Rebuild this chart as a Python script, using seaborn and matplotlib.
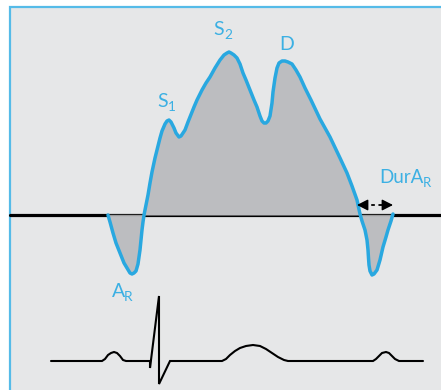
import matplotlib
matplotlib.use("Agg")
import matplotlib.pyplot as plt
from matplotlib.patches import Rectangle
import seaborn as sns
import pandas as pd

# ── data (x = time in px, y = image row, converted to velocity below) ─────────
BASE_ROW = 215
flow_t = [108, 110, 113, 116, 120, 124, 127, 130, 132, 134, 136, 138, 140, 141,
          142, 143, 144, 146, 148, 150, 152, 155, 158, 160, 162, 165, 167, 169,
          171, 174, 176, 179, 181, 183, 185, 188, 190, 194, 197, 202, 206, 210,
          215, 220, 224, 227, 229, 231, 234, 237, 240, 243, 246, 250, 254, 257,
          260, 262, 264, 266, 268, 270, 272, 273, 275, 277, 279, 282, 285, 288,
          292, 296, 300, 305, 311, 320, 330, 340, 347, 352, 357, 360, 362, 365,
          367, 368, 368.5, 369, 370, 372, 374, 377, 380, 383, 386, 388, 391, 393]
flow_row = [215, 222, 233, 243, 253, 263, 268, 273, 274, 273, 271, 264, 250, 240,
            230, 222, 215, 205, 195, 183, 172, 158, 146, 138, 131, 124, 121, 120,
            122, 128, 133, 137, 136, 133, 130, 122, 117, 107, 100, 90, 83, 77,
            68, 60, 55, 53, 52, 53, 55, 58, 64, 73, 80, 90, 100, 107,
            116, 121, 123, 123, 121, 116, 103, 92, 78, 68, 63, 61, 61, 62,
            64, 70, 77, 88, 100, 119, 137, 158, 173, 186, 200, 214, 221, 230,
            240, 250, 258, 265, 271, 275, 274, 270, 260, 247, 237, 230, 221, 214]
flow_v = [BASE_ROW - r for r in flow_row]

# ECG trace, amplitude above its own baseline
ECG_ROW = 361
ecg_t = [51, 102, 105, 108, 111, 114, 117, 120, 123, 126, 150, 150, 159, 159,
         170, 222, 226, 230, 235, 240, 246, 253, 260, 266, 272, 278, 284, 288,
         373, 376, 379, 382, 386, 389, 392, 395, 399, 423]
ecg_amp = [0, 0, 2, 6, 8, 9, 8, 5, 1, 0, 0, -7, 65, -23,
           0, 0, 2, 6, 10, 13, 15, 16, 15, 12, 8, 4, 1, 0,
           0, 2, 5, 8, 9, 8, 5, 2, 0, 0]

BLUE = "#29a8e0"
TEXT_BLUE = "#3cb0e3"
FILL = "#bcbdc0"
PANEL = "#e6e7e8"

sns.set_theme(style="white")
plt.rcParams["font.family"] = ["Lato", "DejaVu Sans"]

fig = plt.figure(figsize=(4.41, 3.90), dpi=100)
fig.patch.set_facecolor("white")
ax = fig.add_axes([0, 0, 1, 1])

# panel with light-blue frame
ax.add_patch(Rectangle((10, BASE_ROW - 450), 440, 450 - 7, facecolor=PANEL,
                       edgecolor="#55bbe8", lw=1.6, zorder=0))

# zero line
ax.plot([10, 441], [0, 0], color="black", lw=2.3, zorder=1)

flow = pd.DataFrame({"t": flow_t, "v": flow_v})
ax.fill_between(flow["t"], flow["v"], 0, color=FILL, lw=0, zorder=2)
ax.plot([108, 144], [0, 0], color="#9a9a9c", lw=1.0, zorder=2)
ax.plot([360, 393], [0, 0], color="#9a9a9c", lw=1.0, zorder=2)
sns.lineplot(data=flow, x="t", y="v", sort=False, estimator=None, color=BLUE,
             lw=2.5, ax=ax, zorder=3, solid_joinstyle="round",
             solid_capstyle="round")

ecg = pd.DataFrame({"t": ecg_t, "v": [BASE_ROW - ECG_ROW + a for a in ecg_amp]})
sns.lineplot(data=ecg, x="t", y="v", sort=False, estimator=None, color="black",
             lw=1.5, ax=ax, zorder=3, solid_joinstyle="miter")
ax.set_xlim(0, 441)
ax.set_ylim(BASE_ROW - 390, BASE_ROW)
ax.axis("off")

# labels
def label(x, row, main, sub, size=14, dx=0):
    ax.text(x, BASE_ROW - row, main, color=TEXT_BLUE, fontsize=size,
            ha="left", va="baseline", zorder=4)
    if sub:
        ax.text(x + dx, BASE_ROW - row - 4, sub, color=TEXT_BLUE,
                fontsize=size * 0.7, ha="left", va="baseline", zorder=4)

label(157, 107, "S", "1", dx=11)
label(213, 35, "S", "2", dx=11)
label(279, 50, "D", None)
label(379, 183, "DurA", "R", size=13.5, dx=44)
label(112, 297, "A", "R", dx=12)

# duration arrow
ay = BASE_ROW - 205
ax.plot([364, 386], [ay, ay], color="black", lw=1.3, ls=(0, (2, 2)), zorder=4)
for tip, tail in [(357, 366), (393, 384)]:
    ax.annotate("", xy=(tip, ay), xytext=(tail, ay),
                arrowprops=dict(arrowstyle="-|>,head_length=0.55,head_width=0.28",
                                color="black", lw=1.0, shrinkA=0, shrinkB=0),
                zorder=4)

fig.savefig("out.png", dpi=100, facecolor="white")
